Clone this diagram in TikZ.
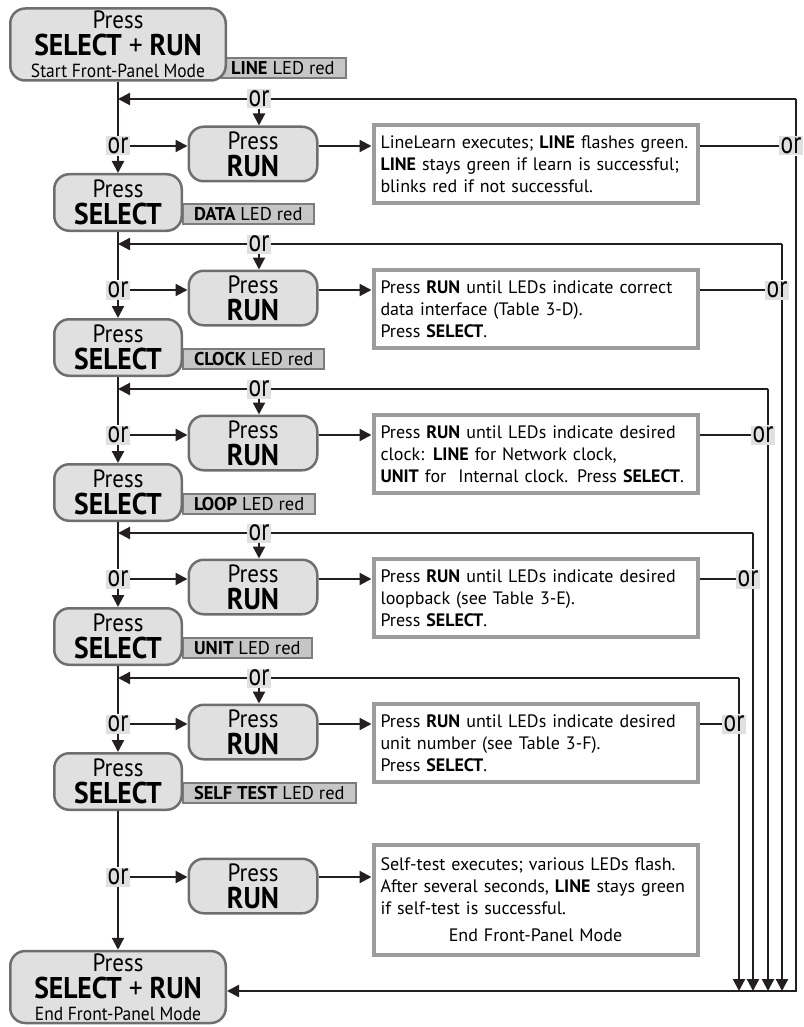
\documentclass[tikz,border=0pt]{standalone}
\usepackage{fontspec}
\setmainfont{PT Sans}
\newfontfamily\condfont[FakeStretch=0.92]{PT Sans}
\newfontfamily\orfont[FakeStretch=0.76]{PT Sans}
\usetikzlibrary{arrows.meta}

\definecolor{ink}{HTML}{231F20}
\definecolor{keyfill}{HTML}{E0E0E0}
\definecolor{keyline}{HTML}{6E6E6E}
\definecolor{ledfill}{HTML}{C6C6C6}
\definecolor{ledline}{HTML}{7C7C7C}
\definecolor{noteline}{HTML}{9C9C9C}

\newcommand{\presskey}[1]{Press\\{\bfseries\fontsize{30}{30}\selectfont #1}}

\tikzset{
  pressbox/.style={draw=keyline, line width=2.5pt, fill=keyfill, rounded corners=15pt,
    align=center, inner sep=0pt, font=\condfont\fontsize{25}{27}\selectfont},
  runbox/.style={pressbox, minimum width=128.5pt, minimum height=54.5pt},
  selbox/.style={pressbox, minimum width=127.5pt, minimum height=56.5pt},
  modebox/.style={pressbox, minimum width=215.5pt, minimum height=72pt},
  led/.style={draw=ledline, line width=2pt, fill=ledfill, anchor=west, inner xsep=11pt,
    inner ysep=0pt, minimum height=20pt, font=\fontsize{18.5}{18.5}\selectfont},
  notebox/.style={draw=noteline, line width=4pt, fill=white, text width=310pt, align=left,
    inner xsep=7pt, minimum height=78pt, font=\fontsize{18}{22}\selectfont},
  ortag/.style={fill=keyfill, inner xsep=1.5pt, inner ysep=0pt, minimum height=19pt,
    font=\orfont\fontsize{31}{31}\selectfont},
  flow/.style={draw=ink, line width=2.2pt},
  arr/.style={flow, -{Triangle[length=12pt,width=12pt]}},
}

\begin{document}
\begin{tikzpicture}[x=1pt, y=-1pt]
  \useasboundingbox (0,0) rectangle (803,1027);

  % LED labels first, they sit behind the key boxes
  \node[led] (led0) at (219,68.5) {\textbf{LINE} LED red};
  \node[led] (led1) at (182,214) {\textbf{DATA} LED red};
  \node[led] (led2) at (182,359) {\textbf{CLOCK} LED red};
  \node[led] (led3) at (182,504) {\textbf{LOOP} LED red};
  \node[led] (led4) at (182,648) {\textbf{UNIT} LED red};
  \node[led] (led5) at (182,793) {\textbf{SELF TEST} LED red};

  % key boxes
  \node[modebox] (start) at (118,44.5) {Press\\{\bfseries\fontsize{30}{30}\selectfont SELECT {\mdseries+} RUN}\\[-5pt]{\fontsize{19}{20}\selectfont Start Front-Panel Mode}};
  \node[runbox] (run1) at (253,154) {\presskey{RUN}};
  \node[selbox] (sel1) at (118,202.5) {\presskey{SELECT}};
  \node[runbox] (run2) at (253,298) {\presskey{RUN}};
  \node[selbox] (sel2) at (118,347.5) {\presskey{SELECT}};
  \node[runbox] (run3) at (253,443) {\presskey{RUN}};
  \node[selbox] (sel3) at (118,492.5) {\presskey{SELECT}};
  \node[runbox] (run4) at (253,587) {\presskey{RUN}};
  \node[selbox] (sel4) at (118,636.5) {\presskey{SELECT}};
  \node[runbox] (run5) at (253,732) {\presskey{RUN}};
  \node[selbox] (sel5) at (118,781.5) {\presskey{SELECT}};
  \node[runbox] (run6) at (253,886) {\presskey{RUN}};
  \node[modebox] (finish) at (118,987) {Press\\{\bfseries\fontsize{30}{30}\selectfont SELECT {\mdseries+} RUN}\\[-5pt]{\fontsize{19}{20}\selectfont End Front-Panel Mode}};

  % what each RUN press does
  \node[notebox] (txt1) at (535.5,164) {LineLearn executes; \textbf{LINE} flashes green.\\
    \textbf{LINE} stays green if learn is successful;\\ blinks red if not successful.};
  \node[notebox] (txt2) at (535.5,309) {Press \textbf{RUN} until LEDs indicate correct\\
    data interface (Table 3-D).\\ Press \textbf{SELECT}.};
  \node[notebox] (txt3) at (535.5,454) {Press \textbf{RUN} until LEDs indicate desired\\
    clock: \textbf{LINE} for Network clock,\\ \textbf{UNIT} for\ \ Internal clock. Press \textbf{SELECT}.};
  \node[notebox] (txt4) at (535.5,598) {Press \textbf{RUN} until LEDs indicate desired\\
    loopback (see Table 3-E).\\ Press \textbf{SELECT}.};
  \node[notebox] (txt5) at (535.5,743) {Press \textbf{RUN} until LEDs indicate desired\\
    unit number (see Table 3-F).\\ Press \textbf{SELECT}.};
  \node[notebox, minimum height=110pt] (txt6) at (535.5,900) {Self-test executes; various LEDs flash.\\
    After several seconds, \textbf{LINE} stays green\\ if self-test is successful.\\[5pt]
    \makebox[310pt]{End Front-Panel Mode}};

  % or tags
  \node[ortag] (mor1) at (118,146) {or};
  \node[ortag] (mor2) at (118,290) {or};
  \node[ortag] (mor3) at (118,435) {or};
  \node[ortag] (mor4) at (118,579) {or};
  \node[ortag] (mor5) at (118,724) {or};
  \node[ortag] (mor6) at (118,877) {or};
  \node[ortag] (lor1) at (259,99) {or};
  \node[ortag] (lor2) at (259,244) {or};
  \node[ortag] (lor3) at (259,389) {or};
  \node[ortag] (lor4) at (259,533) {or};
  \node[ortag] (lor5) at (259,678) {or};
  \node[ortag] (ror1) at (791,146) {or};
  \node[ortag] (ror2) at (777,290) {or};
  \node[ortag] (ror3) at (763,435) {or};
  \node[ortag] (ror4) at (748,579) {or};
  \node[ortag] (ror5) at (734,724) {or};

  % corners of the return lines
  \coordinate (top1) at (796,99);
  \coordinate (top2) at (782,244);
  \coordinate (top3) at (768,389);
  \coordinate (top4) at (753,533);
  \coordinate (top5) at (739,678);
  \coordinate (bot1) at (796,991);
  \coordinate (bot2) at (782,991);
  \coordinate (bot3) at (768,991);
  \coordinate (bot4) at (753,991);
  \coordinate (bot5) at (739,991);
  \coordinate (in1) at (118,99);
  \coordinate (in2) at (118,244);
  \coordinate (in3) at (118,389);
  \coordinate (in4) at (118,533);
  \coordinate (in5) at (118,678);

  % main column
  \draw[flow] (start) -- (mor1);
  \draw[arr] (mor1) -- (sel1);
  \draw[flow] (sel1) -- (mor2);
  \draw[arr] (mor2) -- (sel2);
  \draw[flow] (sel2) -- (mor3);
  \draw[arr] (mor3) -- (sel3);
  \draw[flow] (sel3) -- (mor4);
  \draw[arr] (mor4) -- (sel4);
  \draw[flow] (sel4) -- (mor5);
  \draw[arr] (mor5) -- (sel5);
  \draw[flow] (sel5) -- (mor6);
  \draw[arr] (mor6) -- (finish);

  % or -> RUN -> note
  \draw[arr] (mor1) -- (mor1 -| run1.west);
  \draw[arr] (run1.east |- mor1) -- (mor1 -| txt1.west);
  \draw[arr] (mor2) -- (mor2 -| run2.west);
  \draw[arr] (run2.east |- mor2) -- (mor2 -| txt2.west);
  \draw[arr] (mor3) -- (mor3 -| run3.west);
  \draw[arr] (run3.east |- mor3) -- (mor3 -| txt3.west);
  \draw[arr] (mor4) -- (mor4 -| run4.west);
  \draw[arr] (run4.east |- mor4) -- (mor4 -| txt4.west);
  \draw[arr] (mor5) -- (mor5 -| run5.west);
  \draw[arr] (run5.east |- mor5) -- (mor5 -| txt5.west);
  \draw[arr] (mor6) -- (mor6 -| run6.west);
  \draw[arr] (run6.east |- mor6) -- (mor6 -| txt6.west);

  % note -> or on the return lines
  \draw[flow] (mor1 -| txt1.east) -- (ror1);
  \draw[flow] (mor2 -| txt2.east) -- (ror2);
  \draw[flow] (mor3 -| txt3.east) -- (ror3);
  \draw[flow] (mor4 -| txt4.east) -- (ror4);
  \draw[flow] (mor5 -| txt5.east) -- (ror5);

  % loops back to the main column
  \draw[flow] (top1) -- (lor1);
  \draw[arr] (lor1) -- (in1);
  \draw[arr] (lor1) -- (lor1 |- run1.north);
  \draw[flow] (top2) -- (lor2);
  \draw[arr] (lor2) -- (in2);
  \draw[arr] (lor2) -- (lor2 |- run2.north);
  \draw[flow] (top3) -- (lor3);
  \draw[arr] (lor3) -- (in3);
  \draw[arr] (lor3) -- (lor3 |- run3.north);
  \draw[flow] (top4) -- (lor4);
  \draw[arr] (lor4) -- (in4);
  \draw[arr] (lor4) -- (lor4 |- run4.north);
  \draw[flow] (top5) -- (lor5);
  \draw[arr] (lor5) -- (in5);
  \draw[arr] (lor5) -- (lor5 |- run5.north);

  % return lines down to the end
  \draw[flow] (top1) -- (top1 |- ror1.north);
  \draw[arr] (top1 |- ror1.south) -- (bot1) -- (bot1 -| finish.east);
  \draw[flow] (top2) -- (top2 |- ror2.north);
  \draw[arr] (top2 |- ror2.south) -- (bot2);
  \draw[flow] (top3) -- (top3 |- ror3.north);
  \draw[arr] (top3 |- ror3.south) -- (bot3);
  \draw[flow] (top4) -- (top4 |- ror4.north);
  \draw[arr] (top4 |- ror4.south) -- (bot4);
  \draw[flow] (top5) -- (top5 |- ror5.north);
  \draw[arr] (top5 |- ror5.south) -- (bot5);
\end{tikzpicture}
\end{document}
